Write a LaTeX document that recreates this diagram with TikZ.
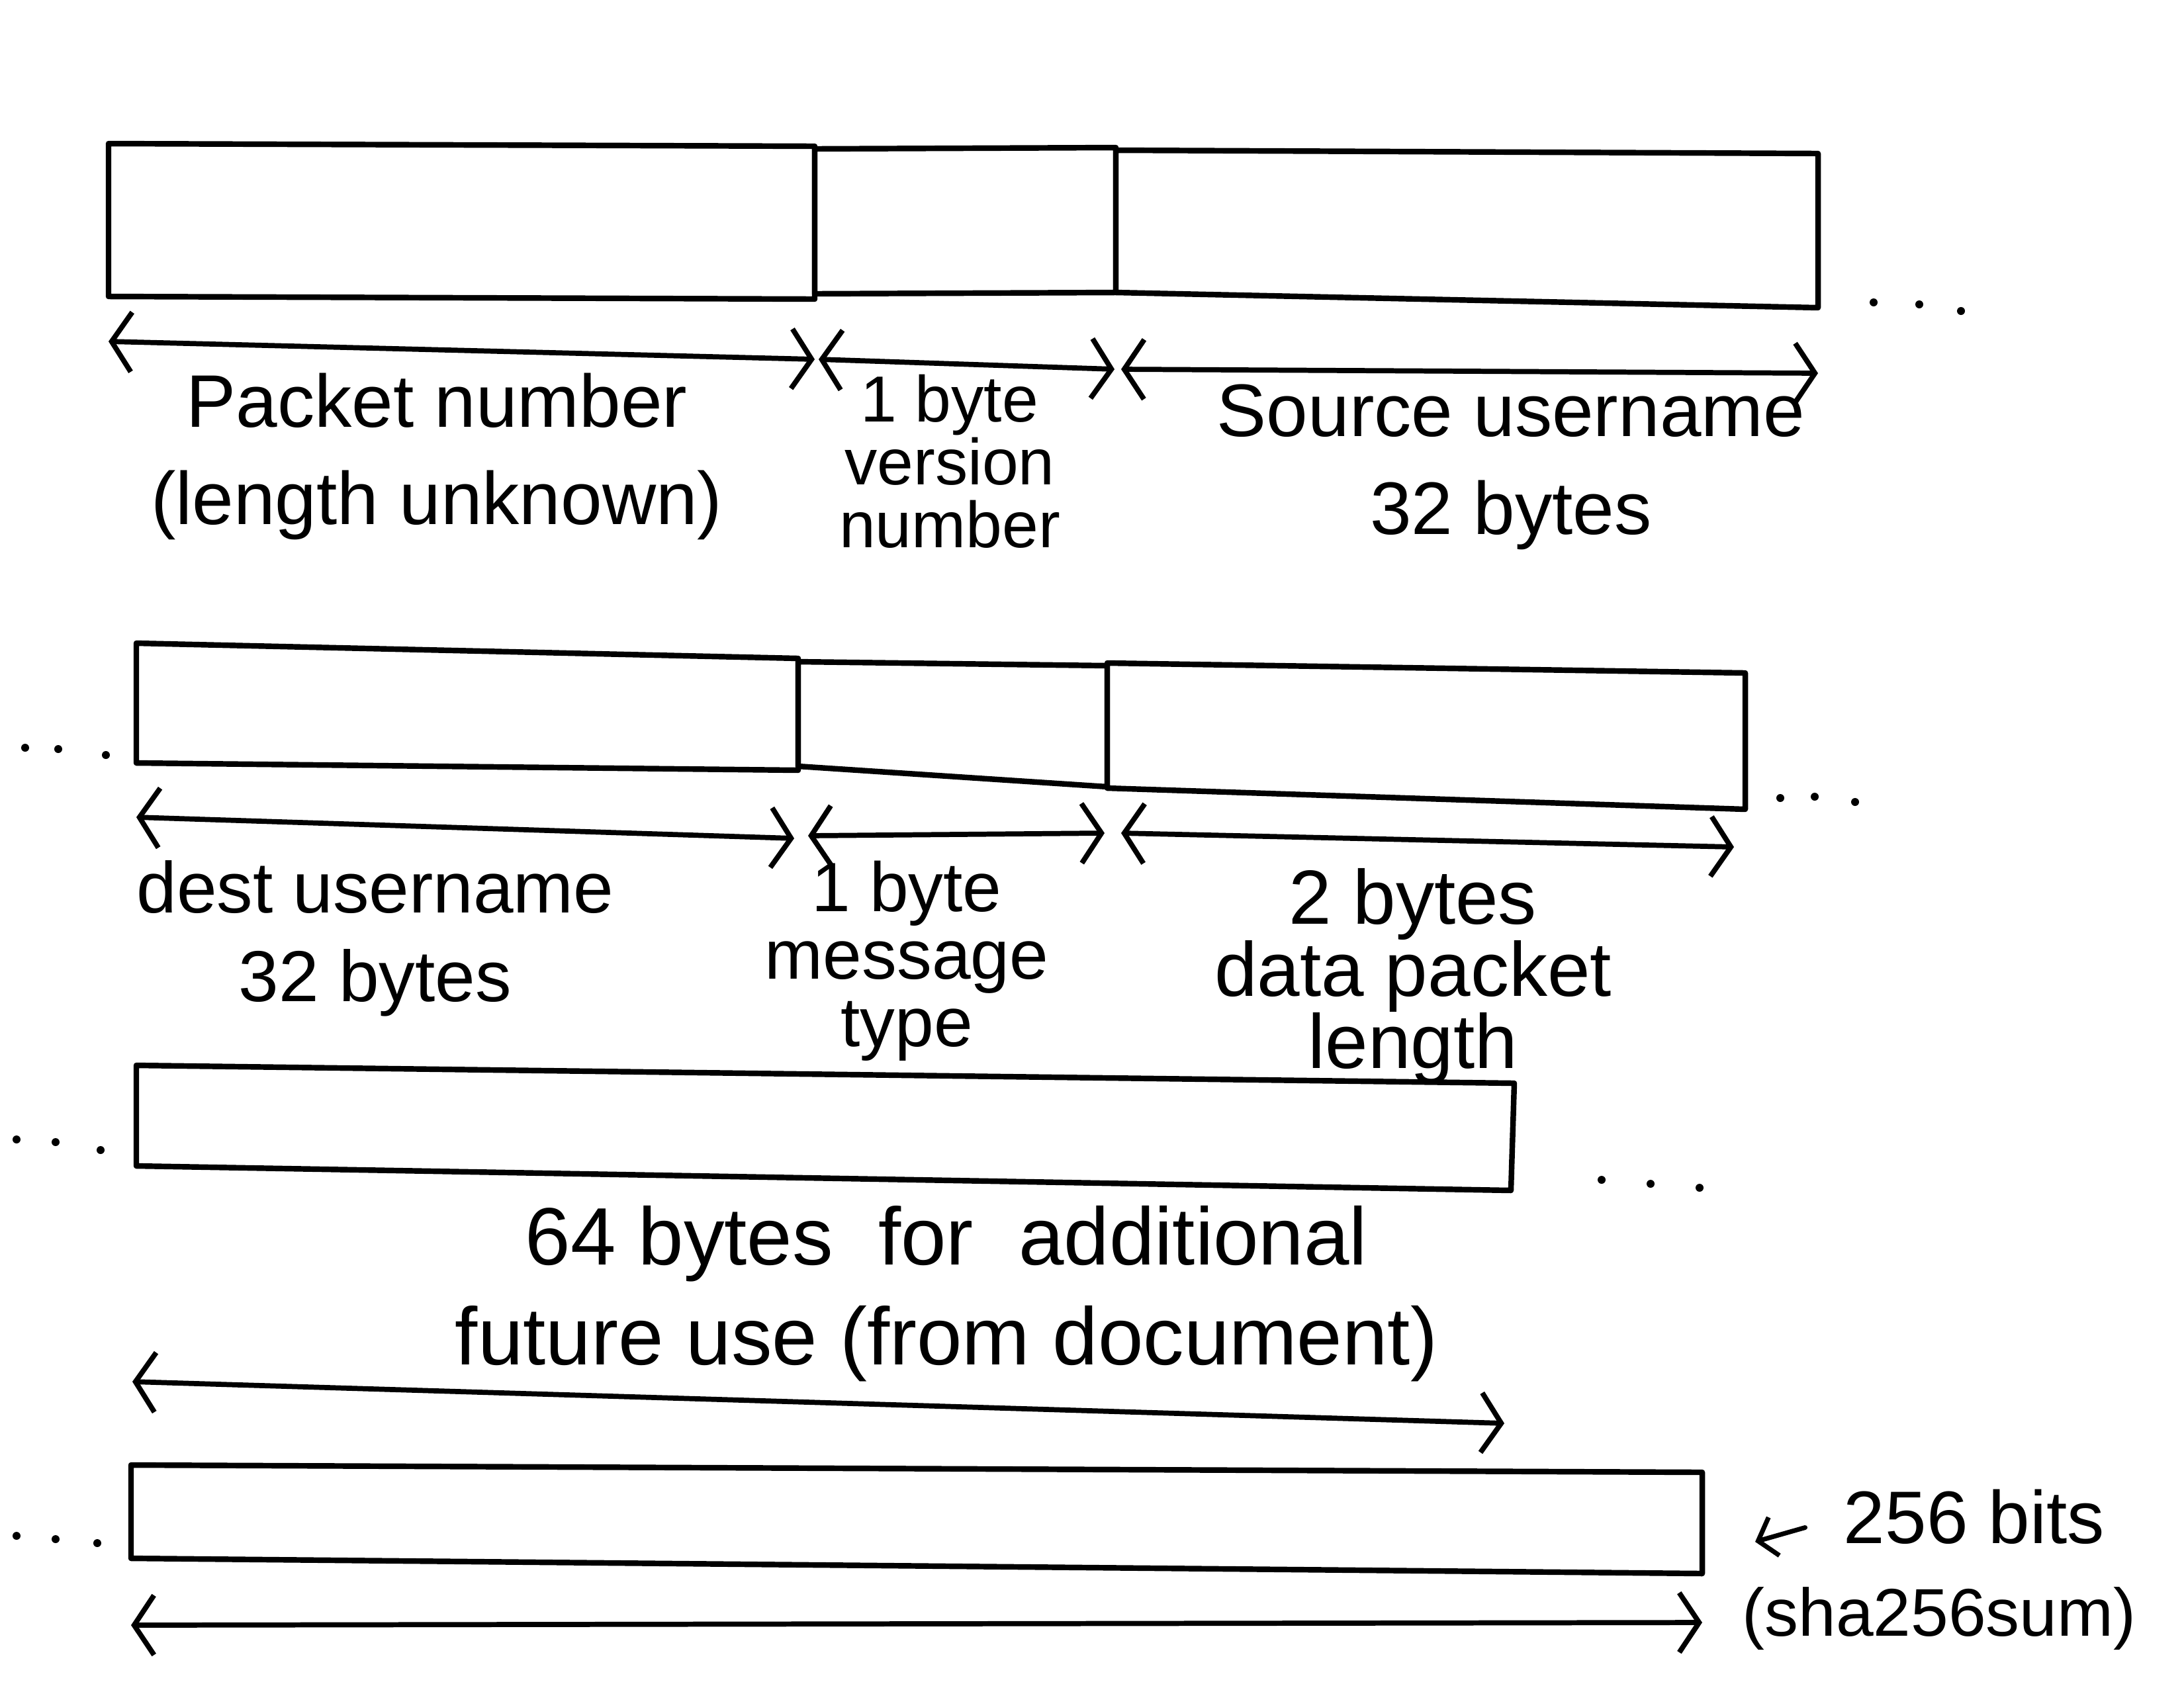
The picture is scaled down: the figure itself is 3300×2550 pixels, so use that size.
\documentclass[tikz,border=0pt]{standalone}
\usepackage{fontspec}
\setmainfont{Liberation Sans}
\usetikzlibrary{arrows.meta}

\tikzset{
  fieldbox/.style={draw=black, line width=2.4pt},
  dimarrow/.style={<->, draw=black, line width=2.2pt},
  fieldlabel/.style={font=\fontsize{32}{42}\selectfont, align=center, inner sep=0pt},
  smalllabel/.style={font=\fontsize{28}{27}\selectfont, align=center, inner sep=0pt},
}

\begin{document}
\begin{tikzpicture}[>={Straight Barb[length=3mm,width=9mm]}]
% Packet layout sketch, coordinates in pixels of the scanned page
\def\pxsz{0.01cm}
\providecommand{\pktDotRadius}{6}
\begin{scope}[x=\pxsz, y=-\pxsz, line cap=round, line join=round]
  % Page
  \fill[white] (0,0) rectangle (3300,2550);
  \useasboundingbox (0,0) rectangle (3300,2550);
  % Row 1: packet number, version, source username
  \draw[fieldbox] (164,217) -- (1231,221) -- (1231,452) -- (164,448) -- cycle;
  \draw[fieldbox] (1231,225) -- (1686,223) -- (1686,442) -- (1231,444) -- cycle;
  \draw[fieldbox] (1686,227) -- (2747,232) -- (2747,465) -- (1686,442) -- cycle;
  \fill (2831,457) circle[radius=\pktDotRadius];
  \fill (2900,460) circle[radius=\pktDotRadius];
  \fill (2963,470) circle[radius=\pktDotRadius];
  \coordinate (pn-l) at (164,516);
  \coordinate (pn-r) at (1231,543);
  \coordinate (ver-l) at (1237,543);
  \coordinate (ver-r) at (1684,558);
  \coordinate (src-l) at (1694,558);
  \coordinate (src-r) at (2747,564);
  \draw[dimarrow] (pn-l) -- (pn-r);
  \draw[dimarrow] (ver-l) -- (ver-r);
  \draw[dimarrow] (src-l) -- (src-r);
  \node[fieldlabel] (pnlbl) at (660,690) {Packet number\\(length unknown)};
  \node[smalllabel] (verlbl) at (1435,697) {1 byte\\version\\number};
  \node[fieldlabel] (srclbl) at (2283,706) {Source username\\32 bytes};
  % Row 2: dest username, message type, data packet length
  \fill (38,1130) circle[radius=\pktDotRadius];
  \fill (88,1132) circle[radius=\pktDotRadius];
  \fill (160,1141) circle[radius=\pktDotRadius];
  \draw[fieldbox] (206,972) -- (1206,995) -- (1206,1164) -- (206,1153) -- cycle;
  \draw[fieldbox] (1206,1000) -- (1673,1006) -- (1673,1189) -- (1206,1158) -- cycle;
  \draw[fieldbox] (1673,1002) -- (2637,1017) -- (2637,1223) -- (1673,1191) -- cycle;
  \fill (2690,1206) circle[radius=\pktDotRadius];
  \fill (2742,1204) circle[radius=\pktDotRadius];
  \fill (2803,1212) circle[radius=\pktDotRadius];
  \coordinate (dst-l) at (206,1235);
  \coordinate (dst-r) at (1200,1267);
  \coordinate (msg-l) at (1221,1263);
  \coordinate (msg-r) at (1669,1259);
  \coordinate (len-l) at (1694,1259);
  \coordinate (len-r) at (2620,1280);
  \draw[dimarrow] (dst-l) -- (dst-r);
  \draw[dimarrow] (msg-l) -- (msg-r);
  \draw[dimarrow] (len-l) -- (len-r);
  \node[fieldlabel, font=\fontsize{31}{38}\selectfont] (dstlbl) at (567,1418) {dest username\\32 bytes};
  \node[fieldlabel, font=\fontsize{30}{29}\selectfont] (msglbl) at (1370,1452) {1 byte\\message\\type};
  \node[fieldlabel, font=\fontsize{33}{31}\selectfont] (lenlbl) at (2135,1475) {2 bytes\\data packet\\length};
  % Row 3: reserved bytes
  \fill (25,1722) circle[radius=\pktDotRadius];
  \fill (84,1726) circle[radius=\pktDotRadius];
  \fill (152,1738) circle[radius=\pktDotRadius];
  \draw[fieldbox] (206,1610) -- (2288,1637) -- (2283,1799) -- (206,1762) -- cycle;
  \fill (2420,1783) circle[radius=\pktDotRadius];
  \fill (2494,1789) circle[radius=\pktDotRadius];
  \fill (2568,1795) circle[radius=\pktDotRadius];
  \node[fieldlabel, font=\fontsize{35}{43}\selectfont] (rsvlbl) at (1430,1955) {64 bytes \ for \ additional\\future use (from document)};
  \coordinate (rsv-l) at (200,2088);
  \coordinate (rsv-r) at (2273,2151);
  \draw[dimarrow] (rsv-l) -- (rsv-r);
  % Row 4: hash
  \fill (25,2321) circle[radius=\pktDotRadius];
  \fill (84,2326) circle[radius=\pktDotRadius];
  \fill (147,2332) circle[radius=\pktDotRadius];
  \draw[fieldbox] (198,2214) -- (2572,2225) -- (2572,2378) -- (198,2355) -- cycle;
  \coordinate (hash-l) at (198,2456);
  \coordinate (hash-r) at (2572,2452);
  \draw[dimarrow] (hash-l) -- (hash-r);
  \node[fieldlabel] (bitslbl) at (2983,2292) {256 bits};
  \node[fieldlabel, font=\fontsize{29}{36}\selectfont] (sumlbl) at (2930,2446) {(sha256sum)};
  \coordinate (hashtip) at (2652,2330);
  \draw[->, line width=2pt, >={Straight Barb[length=2.5mm,width=6mm]}, shorten <=0.6cm] (bitslbl.west) -- (hashtip);
\end{scope}
\end{tikzpicture}
\end{document}
